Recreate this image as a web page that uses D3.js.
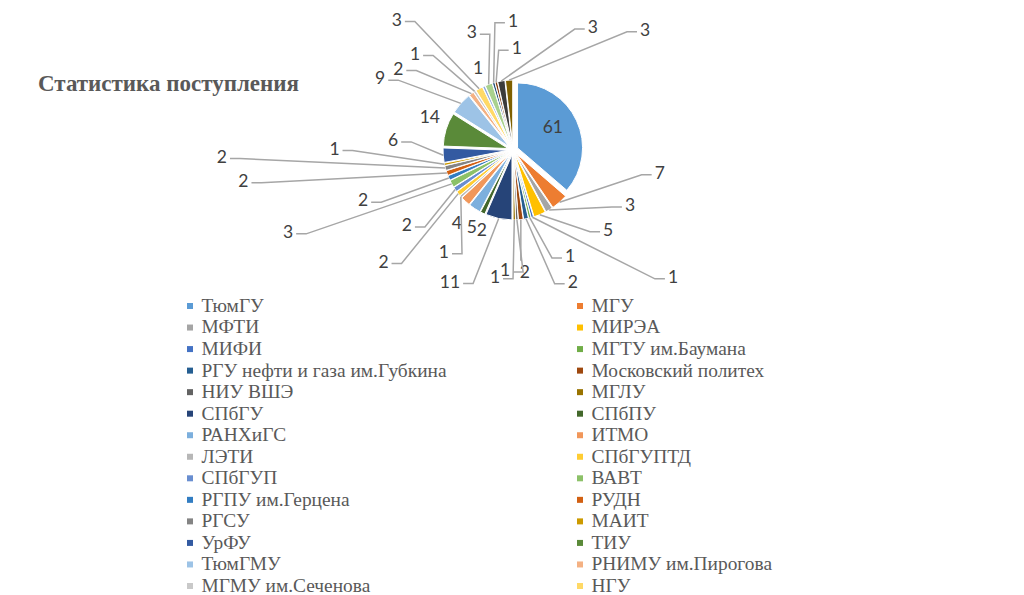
<!DOCTYPE html>
<html><head><meta charset="utf-8">
<script src="https://cdn.jsdelivr.net/npm/d3@7"></script>
<style>body{margin:0;background:#fff}svg{display:block}</style>
</head><body>
<svg id="chart" width="1024" height="595"></svg>
<script>
const title = "Статистика поступления";
// legend entries (the original legend is cut off after 28 entries)
const categories = ["ТюмГУ","МГУ","МФТИ","МИРЭА","МИФИ","МГТУ им.Баумана",
  "РГУ нефти и газа им.Губкина","Московский политех","НИУ ВШЭ","МГЛУ","СПбГУ","СПбПУ",
  "РАНХиГС","ИТМО","ЛЭТИ","СПбГУПТД","СПбГУП","ВАВТ","РГПУ им.Герцена","РУДН",
  "РГСУ","МАИТ","УрФУ","ТИУ","ТюмГМУ","РНИМУ им.Пирогова","МГМУ им.Сеченова","НГУ"];
// slice values in drawing order (the last six have no legend entry)
const values = [61,7,3,5,1,1,2,2,1,1,11,2,5,4,1,2,2,3,2,2,2,1,6,14,9,2,1,3,1,3,1,1,3,3];
const colors = ["#5B9BD5","#ED7D31","#A5A5A5","#FFC000","#4472C4","#70AD47",
  "#255E91","#9E480E","#636363","#997300","#264478","#43682B",
  "#7CAFDD","#F1975A","#B7B7B7","#FFCD33","#698ED0","#8CC168",
  "#327DC2","#D26012","#848484","#CC9A00","#335AA1","#5A8A39",
  "#9DC3E6","#F4B183","#C9C9C9","#FFD966","#8FAADC","#A9D18E",
  "#1F4E79","#843C0C","#3B3B3B","#7F6000"];
// data-label placement: [angle (deg, clockwise from 12 o'clock), distance in pie radii, leader line]
const labelLayout = [
  [59.8,0.72,0],[98.8,2.32,1],[115.2,2.02,1],[130.0,1.94,1],[128.4,3.19,1],[151.7,1.88,1],
  [155.6,2.26,1],[174.4,1.91,1],[183.8,1.88,1],[188.1,2.0,1],[205.6,2.28,1],[201.4,1.34,0],
  [208.3,1.36,0],[217.5,1.44,0],[214.2,1.92,1],[229.3,2.67,1],[234.8,2.03,1],[250.0,3.74,1],
  [251.5,2.47,1],[263.5,4.24,1],[268.7,4.55,1],[270.5,2.79,1],[274.8,1.88,1],[291.9,1.40,0],
  [298.4,2.36,1],[305.4,2.20,1],[314.6,2.15,1],[318.3,2.73,1],[336.8,1.39,0],[340.7,1.95,1],
  [0,2.02,1],[2.1,1.59,1],[33.0,2.29,1],[47.7,2.79,1]];

const svg = d3.select("#chart");
const cx = 513, cy = 150, R = 65, explode = 5;

svg.append("text").attr("x", 38).attr("y", 91)
  .attr("font-family", "'Liberation Serif','Times New Roman',serif")
  .attr("font-weight", "bold").attr("font-size", 23).attr("fill", "#595959")
  .text(title);

const pie = d3.pie().sort(null).value(d => d);
const arcs = pie(values);
const arc = d3.arc().innerRadius(0).outerRadius(R);
const g = svg.append("g").attr("transform", `translate(${cx},${cy})`);
const dir = a => [Math.sin(a), -Math.cos(a)];

g.selectAll("path.slice").data(arcs).join("path")
  .attr("class", "slice")
  .attr("transform", d => { const m = (d.startAngle + d.endAngle) / 2, v = dir(m);
    return `translate(${v[0]*explode},${v[1]*explode})`; })
  .attr("d", arc)
  .attr("fill", (d, i) => colors[i])
  .attr("stroke", "#fff").attr("stroke-width", 1);

// data labels and leader lines
const lblFont = "Lato, 'Open Sans', sans-serif", lblSize = 17.5;
const labels = g.append("g");
arcs.forEach((d, i) => {
  const [ang, dist, leader] = labelLayout[i];
  const la = ang * Math.PI / 180, lv = dir(la);
  const lx = lv[0] * dist * 64, ly = lv[1] * dist * 64;
  const t = labels.append("text").attr("x", lx).attr("y", ly).attr("dy", "0.35em")
    .attr("text-anchor", "middle").attr("font-family", lblFont).attr("font-size", lblSize)
    .attr("fill", "#404040").text(d.value);
  if (!leader) return;
  const w = t.node().getBBox().width;
  const m = (d.startAngle + d.endAngle) / 2, v = dir(m);
  const ax = v[0] * (R + explode), ay = v[1] * (R + explode);
  let pts;
  if (Math.abs(ax - lx) < w / 2 + 4) {
    const ex = lx + Math.max(-w / 2, Math.min(w / 2, ax - lx));
    const ey = ay > ly ? ly + 11 : ly - 11;
    pts = [[ax, ay], [ex, ey]];
  } else {
    const side = ax > lx ? 1 : -1;
    const sx = lx + side * (w / 2 + 3), sy = ly + 2;
    pts = [[ax, ay], [sx + side * 10, sy], [sx, sy]];
  }
  labels.append("path").attr("d", d3.line()(pts))
    .attr("fill", "none").attr("stroke", "#A6A6A6").attr("stroke-width", 1.5);
});
labels.raise();

// legend
const rows = Math.ceil(categories.length / 2);
const yRow = d3.scaleLinear().domain([0, rows - 1]).range([305.5, 585.5]);
const colX = [187, 577];
const leg = svg.append("g");
const item = leg.selectAll("g").data(categories).join("g")
  .attr("transform", (d, i) => `translate(${colX[i % 2]},${yRow(Math.floor(i / 2))})`);
item.append("rect").attr("x", 0).attr("y", -2.5).attr("width", 6).attr("height", 6)
  .attr("fill", (d, i) => colors[i]);
item.append("text").attr("x", 14.5).attr("dy", "0.33em")
  .attr("font-family", "'Liberation Serif','Times New Roman',serif")
  .attr("font-size", 19.4).attr("fill", "#595959").text(d => d);
</script>
</body></html>
